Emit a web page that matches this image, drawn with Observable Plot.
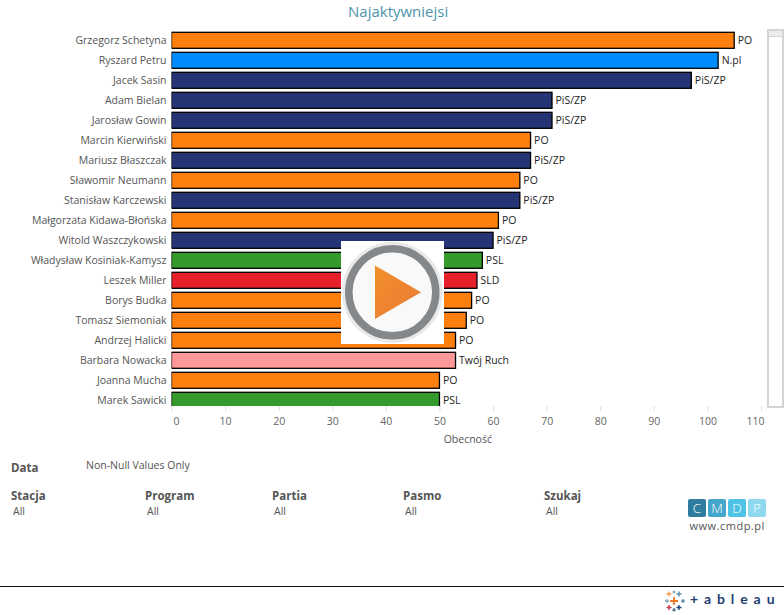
<!DOCTYPE html>
<html><head><meta charset="utf-8">
<script src="https://cdn.jsdelivr.net/npm/d3@7"></script>
<script src="https://cdn.jsdelivr.net/npm/@observablehq/plot@0.6"></script>
<style>
html,body{margin:0;padding:0;background:#fff}
#page{position:relative;width:784px;height:615px;overflow:hidden;font-family:"Open Sans",sans-serif;color:#555}
#chart{position:absolute;left:0;top:0}
#chart svg{display:block}
.t{position:absolute;white-space:nowrap;line-height:1}
.h{font-weight:700;font-size:11.5px;color:#555}
.v{font-size:10.5px;color:#555}
#title{left:348px;top:4px;font-size:15px;color:#4c93ad}
#scroll{position:absolute;left:766.5px;top:29px;width:13.5px;height:375px;border:2px solid #d4d4d4;background:#fff}
#thumb{height:5px;background:#ececec;border-bottom:1px solid #d4d4d4}
#rule{position:absolute;left:0;top:586px;width:784px;height:1px;background:#111}
.box{position:absolute;top:499px;width:18px;height:18px;border-radius:2px;color:#fff;font-size:13.5px;font-weight:300;text-align:center;line-height:18px}
</style></head>
<body><div id="page">
<div id="chart"></div>
<div class="t" id="title">Najaktywniejsi</div>
<div id="scroll"><div id="thumb"></div></div>

<svg style="position:absolute;left:341px;top:241px" width="103" height="103" viewBox="0 0 103 103">
<defs><linearGradient id="g" x1="0" y1="0" x2="1" y2="1"><stop offset="0" stop-color="#f3902a"/><stop offset="1" stop-color="#e87a38"/></linearGradient></defs>
<rect width="103" height="103" fill="#fff"/>
<circle cx="51.3" cy="51.3" r="50.5" fill="#e9e9e9"/>
<circle cx="51.3" cy="51.3" r="43.5" fill="#f9f9f9" stroke="#85888b" stroke-width="7.5"/>
<path d="M34 24.5 L80 51.3 L34 78 Z" fill="url(#g)"/>
</svg>

<div class="t h" style="left:11px;top:462px">Data</div>
<div class="t v" style="left:86px;top:460px">Non-Null Values Only</div>
<div class="t h" style="left:11px;top:490px">Stacja</div><div class="t v" style="left:13px;top:506px">All</div>
<div class="t h" style="left:145px;top:490px">Program</div><div class="t v" style="left:147px;top:506px">All</div>
<div class="t h" style="left:272px;top:490px">Partia</div><div class="t v" style="left:274px;top:506px">All</div>
<div class="t h" style="left:403px;top:490px">Pasmo</div><div class="t v" style="left:405px;top:506px">All</div>
<div class="t h" style="left:544px;top:490px">Szukaj</div><div class="t v" style="left:546px;top:506px">All</div>

<div class="box" style="left:688px;background:#2f7d9e">C</div>
<div class="box" style="left:708px;background:#45a6cb">M</div>
<div class="box" style="left:728px;background:#4fc3e6">D</div>
<div class="box" style="left:748px;background:#8fd9ee">P</div>
<div class="t" style="left:689.5px;top:519.5px;font-size:11px;letter-spacing:.5px;color:#555">www.cmdp.pl</div>

<div id="rule"></div>
<svg style="position:absolute;left:664px;top:590px" width="22" height="22" viewBox="0 0 22 22" fill="none" stroke-width="1.4">
<path d="M10 7v8M6 11h8" stroke="#ea7b2b" stroke-width="1.8"/>
<path d="M5 1.5v5M2.5 4h5" stroke="#f0a050"/><path d="M15 1.5v5M12.5 4h5" stroke="#5f8fb0"/>
<path d="M10 .5v3M8.5 2h3" stroke="#8aa9bf"/>
<path d="M3 9v4M1 11h4" stroke="#8aa9bf"/><path d="M19 9v4M17 11h4" stroke="#5f8fb0"/>
<path d="M5 15v5M2.5 17.5h5" stroke="#c8324a"/><path d="M15 15v5M12.5 17.5h5" stroke="#1f4378"/>
<path d="M10 18v3.5M8.3 20h3.4" stroke="#4a6a95"/>
</svg>
<div class="t" style="left:690px;top:592px;font-size:14px;font-weight:700;letter-spacing:5.9px;color:#1f3f70;font-family:'Lato',sans-serif">+ableau</div>
</div>
<script>
const names = ["Grzegorz Schetyna","Ryszard Petru","Jacek Sasin","Adam Bielan","Jarosław Gowin","Marcin Kierwiński","Mariusz Błaszczak","Sławomir Neumann","Stanisław Karczewski","Małgorzata Kidawa-Błońska","Witold Waszczykowski","Władysław Kosiniak-Kamysz","Leszek Miller","Borys Budka","Tomasz Siemoniak","Andrzej Halicki","Barbara Nowacka","Joanna Mucha","Marek Sawicki"];
const values = [105,102,97,71,71,67,67,65,65,61,60,58,57,56,55,53,53,50,50];
const parties = ["PO","N.pl","PiS/ZP","PiS/ZP","PiS/ZP","PO","PiS/ZP","PO","PiS/ZP","PO","PiS/ZP","PSL","SLD","PO","PO","PO","Twój Ruch","PO","PSL"];
const partyNames = ["PO","N.pl","PiS/ZP","PSL","SLD","Twój Ruch"];
const partyColors = ["#ff7f0e","#008cff","#253474","#359a2c","#e6212b","#ff9896"];
const allTicks = [0,10,20,30,40,50,60,70,80,90,100,110];
const midTicks = [10,20,30,40,50,60,70,80,90,100];
const rows = names.map((name,i)=>({name,value:values[i],party:parties[i]}));
const font = "'Open Sans',sans-serif";
const tickText = {fill:"#666",fontSize:10.5,frameAnchor:"bottom",textAnchor:"middle",lineAnchor:"middle"};
const chart = Plot.plot({
  width:784, height:450,
  marginLeft:171.5, marginRight:23, marginTop:30, marginBottom:44,
  style:{fontFamily:font,fontSize:"10.5px",color:"#555",background:"transparent",overflow:"visible"},
  x:{domain:[0,110],label:null,axis:null},
  y:{domain:names,range:[30.3,410.3],round:false,paddingInner:0.2,paddingOuter:0.1,label:null,axis:null},
  color:{domain:partyNames,range:partyColors},
  marks:[
    Plot.barX(rows,{x:"value",y:"name",fill:"party",stroke:"#000",strokeWidth:1.3,clip:"frame"}),
    Plot.text(rows,{x:"value",y:"name",text:"party",textAnchor:"start",dx:3,fill:"#222",fontSize:10.5}),
    Plot.axisY({tickSize:0,tickPadding:5.5,label:null,fill:"#555",fontSize:10.5}),
    Plot.axisX(allTicks,{tickSize:5,stroke:"#dedede",fill:"none",label:null}),
    Plot.text(midTicks,{...tickText,x:d=>d,text:d=>String(d),dy:15}),
    Plot.text([0],{...tickText,x:d=>d,text:d=>String(d),dy:15,dx:4.5}),
    Plot.text([110],{...tickText,x:d=>d,text:d=>String(d),dy:15,dx:-6}),
    Plot.text(["Obecność"],{...tickText,fill:"#555",x:()=>55.2,text:d=>d,dy:33})
  ]
});
document.getElementById("chart").append(chart);
</script>
</body></html>
